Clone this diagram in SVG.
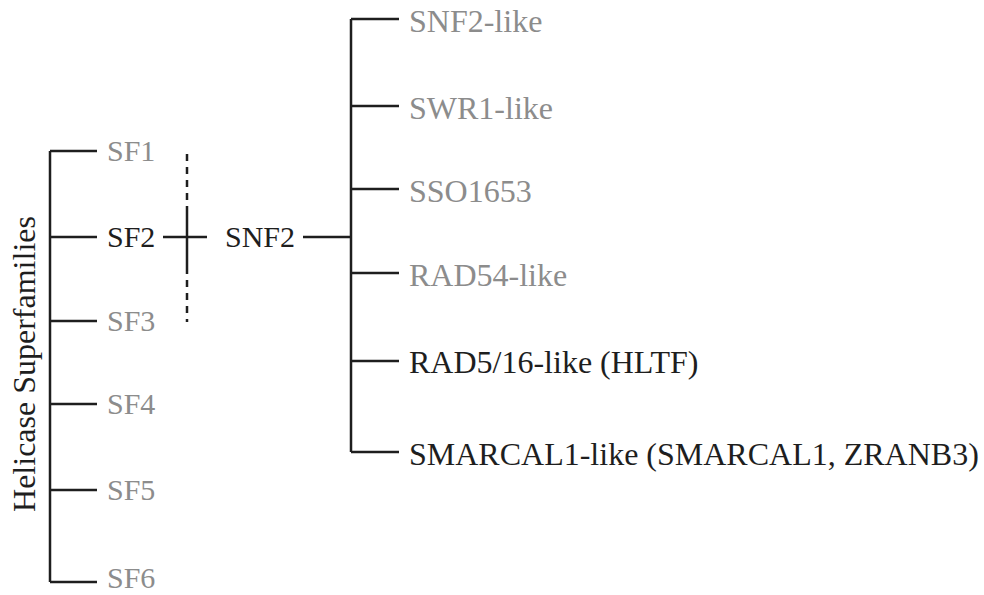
<svg xmlns="http://www.w3.org/2000/svg" width="984" height="595" viewBox="0 0 984 595">
<style>
text{font-family:"Liberation Serif","Times New Roman",serif;font-size:30px}
.r{font-size:32px}
.g{fill:#8c8c8c}
.k{fill:#1e1e1e}
.ln{stroke:#1e1e1e;stroke-width:2.5;fill:none}
.dash{stroke-dasharray:7 6}
</style>
<rect width="984" height="595" fill="#fff"/>
<g id="connectors">
<path class="ln" d="M50,151 V582 M50,151 H97 M50,237 H97 M50,321 H97 M50,404 H97 M50,490 H97 M50,582 H97"/>
<path class="ln" d="M163,237 H207 M187,207 V267"/>
<path class="ln dash" d="M187,154 V207 M187,267 V322"/>
<path class="ln" d="M303,237 H351 M351,19 V452 M351,19 H399 M351,106 H399 M351,189 H399 M351,273 H399 M351,361 H399 M351,452 H399"/>
</g>
<g id="root"><text class="k r" transform="translate(35,364) rotate(-90)" text-anchor="middle">Helicase Superfamilies</text></g>
<g id="sf1"><text class="g" x="107" y="161">SF1</text></g>
<g id="sf2"><text class="k" x="107" y="247">SF2</text></g>
<g id="sf3"><text class="g" x="107" y="331">SF3</text></g>
<g id="sf4"><text class="g" x="107" y="414">SF4</text></g>
<g id="sf5"><text class="g" x="107" y="500">SF5</text></g>
<g id="sf6"><text class="g" x="107" y="588">SF6</text></g>
<g id="snf2"><text class="k" x="225" y="247">SNF2</text></g>
<g id="snf2like"><text class="g r" x="409" y="32">SNF2-like</text></g>
<g id="swr1"><text class="g r" x="409" y="119">SWR1-like</text></g>
<g id="sso"><text class="g r" x="409" y="202">SSO1653</text></g>
<g id="rad54"><text class="g r" x="409" y="286">RAD54-like</text></g>
<g id="rad5"><text class="k r" x="409" y="373">RAD5/16-like (HLTF)</text></g>
<g id="smarcal"><text class="k r" x="409" y="465">SMARCAL1-like (SMARCAL1, ZRANB3)</text></g>
</svg>
